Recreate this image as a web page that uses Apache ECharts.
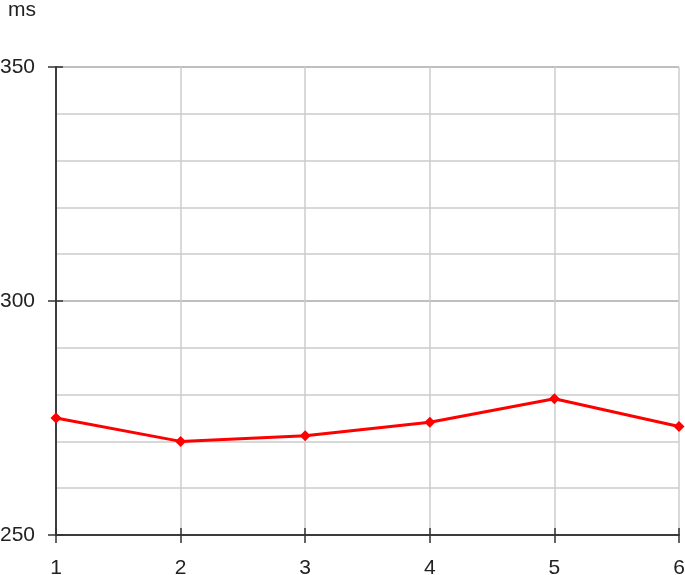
<!DOCTYPE html>
<html>
<head>
<meta charset="utf-8">
<script src="https://cdn.jsdelivr.net/npm/echarts@6/dist/echarts.min.js"></script>
<style>html,body{margin:0;padding:0;background:#fff}#c{width:685px;height:575px}</style>
</head>
<body>
<div id="c"></div>
<script>
const categories = ['1','2','3','4','5','6'];
const values = [275, 270, 271.2, 274.1, 279.1, 273.2];
const unitLabel = 'ms';
const yMin = 250, yMax = 350, yStep = 50;

const chart = echarts.init(document.getElementById('c'), null, {renderer: 'canvas'});
const font = '"Liberation Sans", Arial, sans-serif';
chart.setOption({
  animation: false,
  title: { text: unitLabel, left: 3, top: -5, textStyle: { fontFamily: font, fontSize: 21, fontWeight: 'normal', color: '#222' } },
  grid: { left: 56, right: 6, top: 67, bottom: 40, containLabel: false, outerBoundsMode: 'none' },
  xAxis: [{
    type: 'category', data: categories, boundaryGap: false,
    axisLine: { lineStyle: { color: '#333', width: 1.5 } },
    axisTick: { show: true, length: 8, inside: false, alignWithLabel: true, lineStyle: { color: '#333', width: 1.5 } },
    axisLabel: { fontFamily: font, fontSize: 21, color: '#222', margin: 23, showMaxLabel: true, showMinLabel: true },
    splitLine: { show: true, lineStyle: { color: '#cccccc', width: 1.5 } }
  }, {
    type: 'category', data: categories, boundaryGap: false, position: 'bottom', offset: 0,
    axisLine: { show: true, onZero: false, lineStyle: { color: '#333', width: 1.5 } },
    axisTick: { show: true, length: 7, inside: true, lineStyle: { color: '#333', width: 1.5 } },
    axisLabel: { show: false }, splitLine: { show: false }, z: 5
  }],
  yAxis: [{
    type: 'value', min: yMin, max: yMax, interval: yStep,
    axisLine: { show: true, lineStyle: { color: '#333', width: 1.5 } },
    axisTick: { show: true, length: 8, lineStyle: { color: '#333', width: 1.5 } },
    axisLabel: { fontFamily: font, fontSize: 21, color: '#222', margin: 21 },
    splitLine: { show: true, lineStyle: { color: '#aaaaaa', width: 1.5 } },
    minorTick: { show: false, splitNumber: 5 },
    minorSplitLine: { show: true, lineStyle: { color: '#cccccc', width: 1.5 } }
  }, {
    type: 'value', min: yMin, max: yMax, interval: yStep, position: 'left', offset: 0,
    axisLine: { show: true, onZero: false, lineStyle: { color: '#333', width: 1.5 } },
    axisTick: { show: true, length: 7, inside: true, lineStyle: { color: '#333', width: 1.5 } },
    axisLabel: { show: false }, splitLine: { show: false }, z: 5
  }],
  series: [{
    type: 'line', data: values, xAxisIndex: 0, yAxisIndex: 0,
    symbol: 'diamond', symbolSize: 11, showSymbol: true,
    lineStyle: { color: '#ff0000', width: 3 },
    itemStyle: { color: '#ff0000' }, z: 10
  }]
});
</script>
</body>
</html>
